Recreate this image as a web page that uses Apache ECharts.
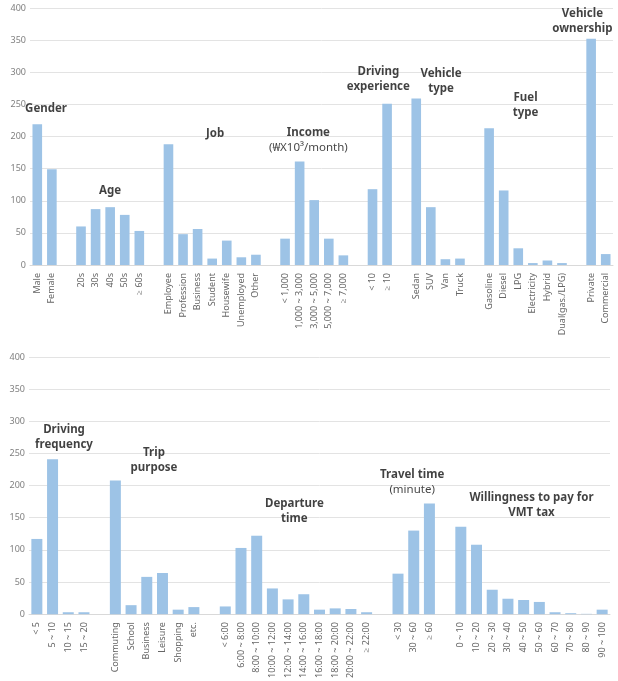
<!DOCTYPE html>
<html>
<head>
<meta charset="utf-8">
<script src="https://cdn.jsdelivr.net/npm/echarts@6/dist/echarts.min.js"></script>
<style>
  html, body { margin: 0; padding: 0; background: #fff; }
  #main { width: 618px; height: 681px; }
</style>
</head>
<body>
<div id="main"></div>
<script>
let chart = echarts.init(document.getElementById('main'));

/* upper panel: categories ('' = gap between groups) */
let topCats = ['Male', 'Female', '',
  '20s', '30s', '40s', '50s', '≥ 60s', ' ',
  'Employee', 'Profession', 'Business', 'Student', 'Housewife', 'Unemployed', 'Other', '  ',
  '< 1,000', '1,000 ~ 3,000', '3,000 ~ 5,000', '5,000 ~ 7,000', '≥ 7,000', '   ',
  '< 10', '≥ 10', '    ',
  'Sedan', 'SUV', 'Van', 'Truck', '     ',
  'Gasoline', 'Diesel', 'LPG', 'Electricity', 'Hybrid', 'Dual(gas./LPG)', '      ',
  'Private', 'Commercial'];
let topVals = [219, 149, null,
  60, 87, 90, 78, 53, null,
  188, 48, 56, 10, 38, 12, 16, null,
  41, 161, 101, 41, 15, null,
  118, 251, null,
  259, 90, 9, 10, null,
  213, 116, 26, 3, 7, 3, null,
  352, 17];

/* lower panel */
let botCats = ['< 5', '5 ~ 10', '10 ~ 15', '15 ~ 20', '',
  'Commuting', 'School', 'Business', 'Leisure', 'Shopping', 'etc.', ' ',
  '< 6:00', '6:00 ~ 8:00', '8:00 ~ 10:00', '10:00 ~ 12:00', '12:00 ~ 14:00', '14:00 ~ 16:00',
  '16:00 ~ 18:00', '18:00 ~ 20:00', '20:00 ~ 22:00', '≥ 22:00', '  ',
  '< 30', '30 ~ 60', '≥ 60', '   ',
  '0 ~ 10', '10 ~ 20', '20 ~ 30', '30 ~ 40', '40 ~ 50', '50 ~ 60', '60 ~ 70', '70 ~ 80', '80 ~ 90', '90 ~ 100'];
let botVals = [117, 241, 3, 3, null,
  208, 14, 58, 64, 7, 11, null,
  12, 103, 122, 40, 23, 31, 7, 9, 8, 3, null,
  63, 130, 172, null,
  136, 108, 38, 24, 22, 19, 3, 1.5, 0.5, 7];

let yTicks = [0, 50, 100, 150, 200, 250, 300, 350, 400];

/* group titles */
let topNotes = ['{b|Gender}', '{b|Age}', '{b|Job}', '{b|Income}\n{n|(₩X10³/month)}',
  '{b|Driving}\n{b|experience}', '{b|Vehicle}\n{b|type}', '{b|Fuel}\n{b|type}', '{b|Vehicle}\n{b|ownership}'];
let botNotes = ['{b|Driving}\n{b|frequency}', '{b|Trip}\n{b|purpose}', '{b|Departure}\n{b|time}',
  '{b|Travel time}\n{n|(minute)}', '{b|Willingness to pay for}\n{b|VMT tax}'];

// where each title sits: [slot index, value]
let topNotePos = [[0.6, 244], [5, 116], [12.2, 205], [18.6, 194], [23.4, 289], [27.7, 286], [33.5, 248], [37.4, 379]];
let botNotePos = [[1.73, 275], [7.46, 240], [16.4, 160], [23.9, 205], [31.5, 169]];

const barColor = '#9dc3e6';
const font = 'Noto Sans';

function catAxis(grid, cats) {
  return {
    type: 'category', gridIndex: grid, data: cats,
    axisTick: { show: false },
    axisLine: { lineStyle: { color: '#d9d9d9' } },
    axisLabel: { rotate: 90, interval: 0, fontSize: 9, color: '#666', fontFamily: font, margin: 8 }
  };
}
function hiddenX(grid, n) {
  return { type: 'value', gridIndex: grid, min: -0.5, max: n - 0.5, show: false };
}
function valAxis(grid) {
  return {
    type: 'value', gridIndex: grid, min: yTicks[0], max: yTicks[yTicks.length - 1], interval: 50,
    axisLine: { show: false }, axisTick: { show: false },
    axisLabel: { fontSize: 9, color: '#7f7f7f', fontFamily: font, margin: 4 },
    splitLine: { lineStyle: { color: '#e3e3e3' } }
  };
}
function notes(xi, yi, texts, pos) {
  return {
    type: 'scatter', xAxisIndex: xi, yAxisIndex: yi, symbolSize: 0, silent: true, z: 5,
    data: texts.map((t, i) => ({ value: pos[i], label: { formatter: t } })),
    label: {
      show: true, position: 'inside', align: 'center', verticalAlign: 'middle',
      rich: {
        b: { fontSize: 11.5, fontWeight: 'bold', color: '#111', fontFamily: font, lineHeight: 15, align: 'center' },
        n: { fontSize: 11.5, color: '#111', fontFamily: font, lineHeight: 15, align: 'center' }
      }
    }
  };
}

let option = {
  animation: false,
  grid: [
    { left: 30, right: 5, top: 8, height: 257 },
    { left: 29, right: 8, top: 357, height: 261 }
  ],
  xAxis: [catAxis(0, topCats), hiddenX(0, topCats.length), catAxis(1, botCats), hiddenX(1, botCats.length)],
  yAxis: [valAxis(0), valAxis(1)],
  series: [
    { type: 'bar', xAxisIndex: 0, yAxisIndex: 0, data: topVals, barWidth: '66%', itemStyle: { color: barColor } },
    { type: 'bar', xAxisIndex: 2, yAxisIndex: 1, data: botVals, barWidth: '70%', itemStyle: { color: barColor } },
    notes(1, 0, topNotes, topNotePos),
    notes(3, 1, botNotes, botNotePos)
  ]
};

chart.setOption(option);
</script>
</body>
</html>
